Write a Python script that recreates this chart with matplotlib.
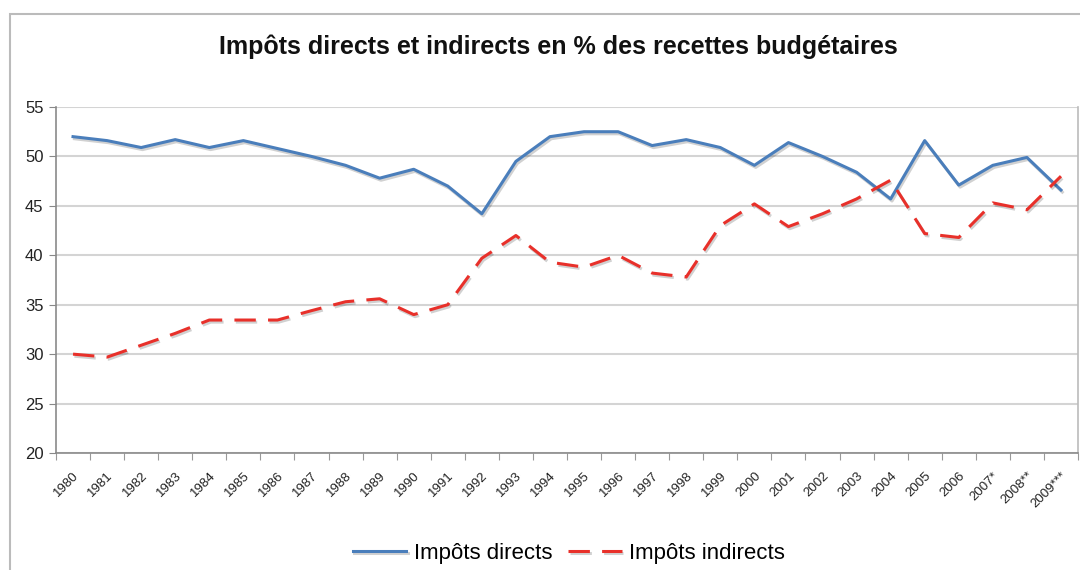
import matplotlib
matplotlib.use("Agg")
import matplotlib.pyplot as plt
import matplotlib.patheffects as pe
from matplotlib.patches import Rectangle
import numpy as np

plt.rcParams['font.family'] = ['Liberation Sans', 'DejaVu Sans']

years = ["1980", "1981", "1982", "1983", "1984", "1985", "1986", "1987", "1988", "1989",
         "1990", "1991", "1992", "1993", "1994", "1995", "1996", "1997", "1998", "1999",
         "2000", "2001", "2002", "2003", "2004", "2005", "2006", "2007*", "2008**", "2009***"]

# Impôts directs (% des recettes budgétaires)
directs = [52.0, 51.6, 50.9, 51.7, 50.9, 51.6, 50.8, 50.0, 49.1, 47.8,
           48.7, 47.0, 44.2, 49.5, 52.0, 52.5, 52.5, 51.1, 51.7, 50.9,
           49.1, 51.4, 50.0, 48.4, 45.7, 51.6, 47.1, 49.1, 49.9, 46.6]

# Impôts indirects
indirects = [30.0, 29.7, 30.9, 32.1, 33.45, 33.45, 33.45, 34.4, 35.3, 35.6,
             34.0, 35.0, 39.7, 42.0, 39.3, 38.8, 40.0, 38.2, 37.8, 43.0,
             45.2, 42.9, 44.2, 45.7, 47.6, 42.2, 41.8, 45.3, 44.6, 48.0]

blue = "#4a7ebb"
red = "#e8302a"

fig = plt.figure(figsize=(10.8, 5.7), dpi=100)
ax = fig.add_axes([56 / 1080, 1 - 453 / 570, (1078 - 56) / 1080, (453 - 107) / 570])

x = np.arange(len(years))
shadow = [pe.SimpleLineShadow(offset=(1, -1.5), alpha=0.18, shadow_color="black"), pe.Normal()]

ax.plot(x, directs, color=blue, lw=2.2, label="Impôts directs",
        path_effects=shadow, zorder=3)
ax.plot(x, indirects, color=red, lw=2.2, label="Impôts indirects",
        dashes=(7, 4), path_effects=shadow, zorder=3)

ax.set_xlim(-0.5, len(years) - 0.5)
ax.set_ylim(20, 55)
ax.set_yticks(range(20, 56, 5))
ax.tick_params(axis="y", labelsize=12, length=5, color="#888888", labelcolor="#222222", pad=4)

# category boundaries as major ticks, labels at centers
ax.set_xticks(np.arange(-0.5, len(years), 1))
ax.set_xticklabels([])
ax.tick_params(axis="x", which="major", length=5, color="#999999", direction="out")
ax.set_xticks(x, minor=True)
ax.set_xticklabels(years, minor=True, rotation=45, ha="right", rotation_mode="anchor",
                   fontsize=9.5, color="#222222")
ax.tick_params(axis="x", which="minor", length=0, pad=12)

ax.grid(axis="y", color="#d4d4d4", lw=1.5)
ax.set_axisbelow(True)
for s in ["left", "bottom", "right"]:
    ax.spines[s].set_color("#8a8a8a")
    ax.spines[s].set_linewidth(1.2)
ax.spines["right"].set_color("#bbbbbb")
ax.spines["top"].set_visible(False)

fig.text(0.517, 1 - 47 / 570, "Impôts directs et indirects en % des recettes budgétaires",
         ha="center", va="center", fontsize=18, fontweight="bold", color="#111111")

fig.legend(loc="center", bbox_to_anchor=(0.527, 1 - 553 / 570), ncol=2, frameon=False,
           fontsize=16, handlelength=2.4, handletextpad=0.35, columnspacing=0.7)

# outer chart frame
fig.patches.append(Rectangle((10 / 1080, -0.1), 1.2, 1.1 - 14 / 570,
                             transform=fig.transFigure, fill=False,
                             edgecolor="#bbbbbb", lw=1.5))

fig.savefig("out.png", dpi=100)
